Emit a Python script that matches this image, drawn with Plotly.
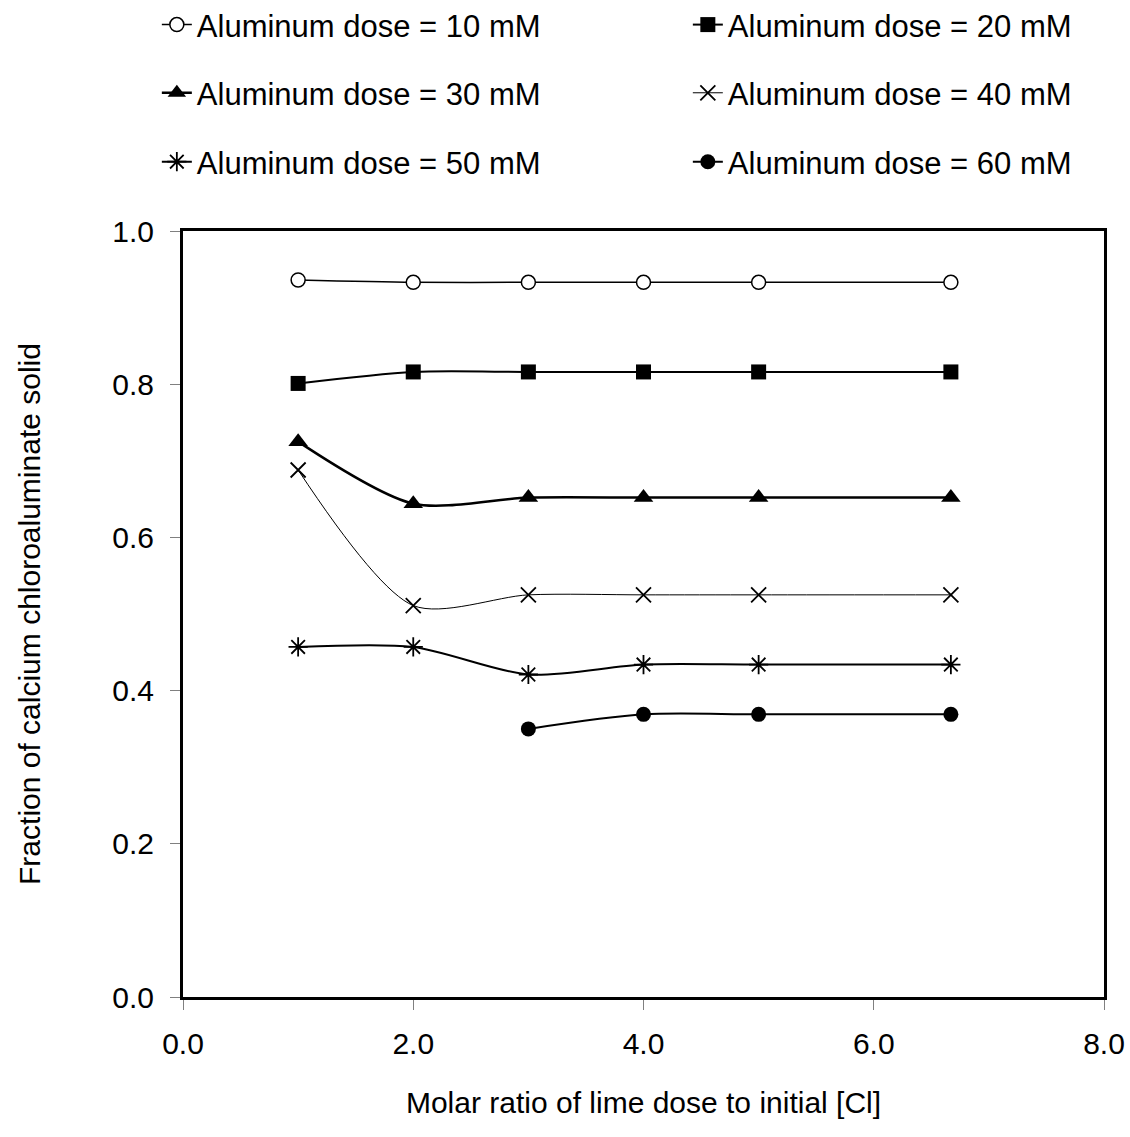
import plotly.graph_objects as go

# ---- data ----
lime_ratio = [1.0, 2.0, 3.0, 4.0, 5.0, 6.67]
al_10mM = [0.936, 0.933, 0.933, 0.933, 0.933, 0.933]
al_20mM = [0.801, 0.816, 0.816, 0.816, 0.816, 0.816]
al_30mM = [0.725, 0.644, 0.652, 0.652, 0.652, 0.652]
al_40mM = [0.688, 0.511, 0.525, 0.525, 0.525, 0.525]
al_50mM = [0.457, 0.457, 0.421, 0.434, 0.434, 0.434]
al_60mM = [None, None, 0.350, 0.369, 0.369, 0.369]

names = ["Aluminum dose = 10 mM", "Aluminum dose = 20 mM", "Aluminum dose = 30 mM",
         "Aluminum dose = 40 mM", "Aluminum dose = 50 mM", "Aluminum dose = 60 mM"]
x_ticks = [0.0, 2.0, 4.0, 6.0, 8.0]
y_ticks = [0.0, 0.2, 0.4, 0.6, 0.8, 1.0]

FONT = "Liberation Sans, Arial, sans-serif"

series = [al_10mM, al_20mM, al_30mM, al_40mM, al_50mM, al_60mM]
styles = [
    dict(symbol="circle", size=14, color="white", lw=1.5, mlw=1.5, legend="legend"),
    dict(symbol="square", size=15, color="black", lw=2, mlw=0, legend="legend"),
    dict(symbol="triangle-up", size=17, color="black", lw=2.5, mlw=0, legend="legend2"),
    dict(symbol="x-thin-open", size=15, color="black", lw=1, mlw=1.8, legend="legend2"),
    dict(symbol="asterisk-open", size=16, color="black", lw=2, mlw=1.8, legend="legend3"),
    dict(symbol="circle", size=15, color="black", lw=2, mlw=0, legend="legend3"),
]

fig = go.Figure()
for name, ys, st in zip(names, series, styles):
    fig.add_trace(go.Scatter(
        x=lime_ratio, y=ys, name=name, mode="lines+markers",
        line=dict(color="black", width=st["lw"], shape="spline", smoothing=0.8),
        marker=dict(symbol=st["symbol"], size=st["size"], color=st["color"],
                    line=dict(color="black", width=st["mlw"])),
        legend=st["legend"], connectgaps=False,
    ))

leg_common = dict(orientation="h", xanchor="left", yanchor="middle",
                  font=dict(family=FONT, size=31, color="black"),
                  entrywidth=486, bgcolor="rgba(0,0,0,0)", itemwidth=30)

LEG_X = -0.0284

fig.update_layout(
    width=1130, height=1137,
    margin=dict(l=183, r=26, t=231, b=140, autoexpand=False),
    plot_bgcolor="white", paper_bgcolor="white",
    font=dict(family=FONT, size=30, color="black"),
    legend=dict(x=LEG_X, y=1.269, **leg_common),
    legend2=dict(x=LEG_X, y=1.180, **leg_common),
    legend3=dict(x=LEG_X, y=1.090, **leg_common),
    xaxis=dict(range=[0, 8], tickvals=x_ticks, tickformat=".1f",
               showline=True, linecolor="black", linewidth=3, mirror=True,
               ticks="outside", ticklen=10, tickcolor="#808080", tickwidth=1,
               showgrid=False, zeroline=False, ticklabelstandoff=8,
               tickfont=dict(size=30),
               title=dict(text="Molar ratio of lime dose to initial [Cl]",
                          font=dict(size=30), standoff=33)),
    yaxis=dict(range=[0, 1], tickvals=y_ticks, tickformat=".1f",
               showline=True, linecolor="black", linewidth=3, mirror=True,
               ticks="outside", ticklen=10, tickcolor="#808080", tickwidth=1,
               showgrid=False, zeroline=False, ticklabelstandoff=10,
               tickfont=dict(size=30),
               title=dict(text="Fraction of calcium chloroaluminate solid",
                          font=dict(size=30), standoff=63)),
)

fig.write_html("out.html")
